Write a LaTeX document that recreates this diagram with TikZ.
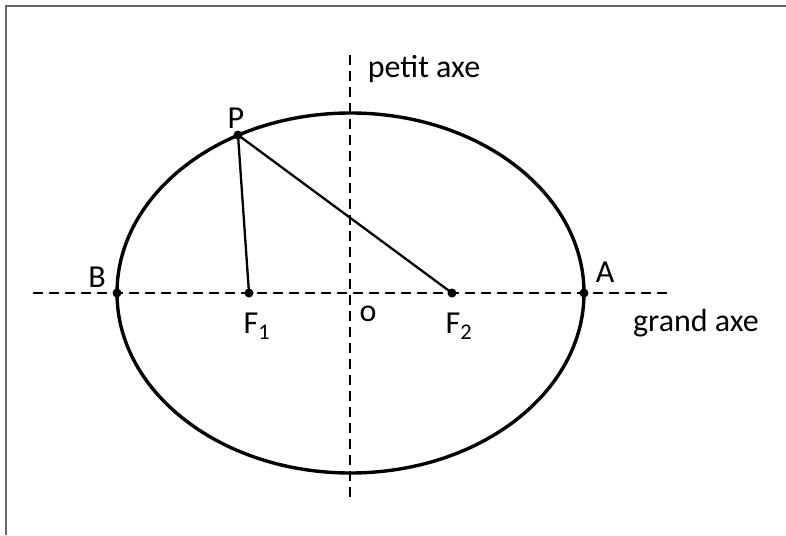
\documentclass[tikz,border=0pt]{standalone}
\usepackage{fontspec}
\setmainfont{Carlito}
\begin{document}
\begin{tikzpicture}[x=1pt,y=-1pt,
  axis/.style={line width=2.3pt,dash pattern=on 10pt off 6pt},
  curve/.style={line width=3.4pt},
  seg/.style={line width=2.3pt},
  pt/.style={circle,fill=black,inner sep=0pt,minimum size=9pt},
  lbl/.style={font=\fontsize{32}{38}\selectfont,inner sep=0pt}]
\useasboundingbox (0,0) rectangle (786,535);
\draw[gray!80!black,line width=2pt] (5.5,535) -- (5.5,6) -- (786,6);
% axes
\coordinate (hl) at (33,293);
\coordinate (hr) at (668,293);
\coordinate (vt) at (350,55);
\coordinate (vb) at (350,500);
\draw[axis] (hl) -- (hr);
\draw[axis] (vt) -- (vb);
% ellipse
\draw[curve] (350.5,293) ellipse [x radius=233.5, y radius=180];
% points
\node[pt] (P) at (238,135) {};
\node[pt] (F1) at (249,293) {};
\node[pt] (F2) at (452,293) {};
\node[pt] (B) at (117,293) {};
\node[pt] (A) at (584,293) {};
\draw[seg] (P.center) -- (F1.center);
\draw[seg] (P.center) -- (F2.center);
% labels
\node[lbl] (lP) at (236,118) {P};
\node[lbl] (lB) at (97,277) {B};
\node[lbl] (lA) at (605,272) {A};
\node[lbl] (lF1) at (257,326) {F\textsubscript{1}};
\node[lbl] (lo) at (368,314) {o};
\node[lbl] (lF2) at (459,326) {F\textsubscript{2}};
\node[lbl] (lpa) at (424,69) {petit axe};
\node[lbl] (lga) at (696,323) {grand axe};
\end{tikzpicture}
\end{document}
